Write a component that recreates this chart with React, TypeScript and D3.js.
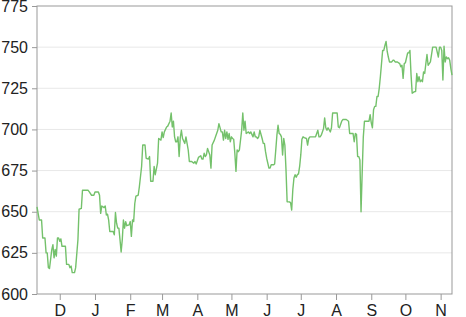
import React, { useEffect, useRef } from "react";
import * as d3 from "d3";

const startDate = new Date(2013, 10, 11);

const dayOffsets = [
  0, 2, 4, 5, 7, 8, 9, 10, 11, 13,
  14, 15, 16, 17, 18, 19, 20, 21, 22, 25,
  26, 28, 29, 30, 31, 33, 34, 36, 37, 39,
  40, 45, 46, 48, 50, 51, 54, 55, 56, 57,
  59, 60, 61, 62, 63, 64, 67, 68, 69, 70,
  71, 72, 73, 74, 75, 76, 77, 78, 79, 81,
  82, 83, 84, 85, 86, 87, 89, 90, 92, 93,
  95, 96, 98, 99, 100, 102, 103, 104, 106, 107,
  109, 110, 111, 112, 114, 115, 117, 118, 119, 120,
  121, 122, 123, 124, 125, 126, 127, 128, 130, 131,
  133, 134, 136, 137, 138, 139, 140, 142, 144, 145,
  146, 147, 148, 149, 150, 152, 153, 154, 156, 157,
  159, 160, 162, 163, 164, 165, 166, 167, 168, 169,
  170, 171, 172, 173, 174, 175, 176, 177, 178, 180,
  181, 182, 183, 184, 186, 187, 188, 190, 191, 192,
  193, 194, 195, 196, 198, 199, 200, 201, 202, 204,
  205, 206, 208, 209, 210, 211, 212, 213, 214, 215,
  216, 217, 218, 219, 220, 222, 223, 224, 225, 226,
  227, 228, 229, 230, 231, 232, 233, 234, 235, 237,
  238, 239, 240, 243, 245, 246, 247, 248, 249, 250,
  251, 252, 253, 254, 255, 256, 258, 259, 260, 264,
  265, 266, 268, 269, 272, 274, 275, 278, 279, 280,
  281, 282, 283, 284, 285, 286, 287, 288, 292, 293,
  294, 295, 296, 297, 298, 299, 300, 301, 302, 303,
  304, 305, 306, 307, 308, 309, 310, 312, 313, 314,
  315, 317, 319, 320, 321, 322, 323, 324, 326, 327,
  328, 329, 330, 332, 333, 334, 335, 336, 337, 338,
  339, 340, 341, 342, 343, 344, 345, 346, 347, 348,
  350, 351, 353, 354, 355, 356, 357, 358, 359, 360,
  361, 362, 363, 364, 365,
];

const values = [
  653, 645, 645, 634, 634, 625, 625, 616, 615.5, 627,
  630, 622, 627, 623, 634, 634, 632, 633.5, 629, 629,
  618, 618, 616, 617, 613, 613, 616, 633, 651.5, 652,
  663, 663, 662, 660, 660, 662, 662, 660, 649, 653.5,
  652.5, 653.5, 648, 648.5, 645, 638, 638, 636, 649.5, 643,
  640, 640, 633, 625.5, 633, 645, 640, 644, 641.5, 642,
  644, 635, 645, 644, 655, 659.5, 660, 665, 677.5, 690.5,
  690.5, 682.5, 682, 683.5, 668.5, 668.5, 677.5, 672.5, 679.5, 694.5,
  693.5, 698.5, 695, 698.5, 701.5, 702, 705, 710, 701.5, 705,
  695.5, 692.5, 692.5, 695.5, 683.5, 695, 699.5, 694.5, 691.5, 695.5,
  687.5, 680.5, 680.5, 680, 679.5, 680.5, 679, 683, 684, 682,
  682, 685.5, 683.5, 684.5, 688.5, 684.5, 676.5, 690.5, 693.5, 695.5,
  699.5, 703.5, 698.5, 698.5, 693.5, 699.5, 694.5, 698.5, 694, 697.5,
  692.5, 695.5, 694.5, 694, 685.5, 674.5, 687.5, 686.5, 687.5, 699.5,
  710, 699.5, 705, 697.5, 698.5, 697.5, 698.5, 695.5, 698.5, 695.5,
  695.5, 694.5, 695.5, 699.5, 694.5, 691.5, 691.5, 686.5, 682.5, 676.5,
  676.5, 678.5, 678.5, 679, 687.5, 696.5, 702.5, 697.5, 697, 695.5,
  684.5, 694.5, 690.5, 675.5, 656, 656, 655.5, 651, 663.5, 670.5,
  672.5, 671, 672.5, 673, 677.5, 684.5, 694, 695.5, 695, 694.5,
  690.5, 694.5, 695.5, 695.5, 695.5, 697.5, 699.5, 695.5, 695.5, 696.5,
  698.5, 700.5, 707, 701, 699.5, 701, 698.5, 701, 710, 710,
  701.5, 701, 705, 706, 706, 705, 697.5, 697.5, 692.5, 697.5,
  697, 683.5, 683.5, 681.5, 650, 673.5, 695.5, 705, 705, 709,
  704, 701, 712, 714, 714, 720, 720, 725, 732, 740,
  748, 748, 751, 753.5, 747.5, 744, 741, 741, 742, 742,
  741, 741, 740, 738, 739, 731, 740, 740.5, 746.5, 746.5,
  748, 733, 722, 723, 723, 734, 729, 732, 729, 730,
  729, 735, 734, 740, 745.5, 739, 740, 741, 745.5, 750,
  750, 750, 744, 750, 750, 748, 730, 750.5, 741, 744,
  743, 743.5, 742, 737, 733,
];

const yDomain = [600, 775];
const yTicks = [600, 625, 650, 675, 700, 725, 750, 775];

const W = 466;
const H = 317;
const margin = { top: 6, right: 14, bottom: 23, left: 37 };

export default function App() {
  const ref = useRef<SVGSVGElement>(null);

  useEffect(() => {
    const svg = d3.select(ref.current);
    svg.selectAll("*").remove();
    const iw = W - margin.left - margin.right;
    const ih = H - margin.top - margin.bottom;

    const data = dayOffsets
      .map((d, i) => ({ date: d3.timeDay.offset(startDate, d), value: values[i] }))
      .filter((p) => p.value !== undefined);

    const x = d3
      .scaleTime()
      .domain(d3.extent(data, (d) => d.date) as [Date, Date])
      .range([0, iw]);
    const y = d3.scaleLinear().domain(yDomain).range([ih, 0]);

    const g = svg
      .append("g")
      .attr("transform", `translate(${margin.left},${margin.top})`);

    // grid
    g.append("g")
      .selectAll("line")
      .data(yTicks.filter((t) => t !== yDomain[0] && t !== yDomain[1]))
      .join("line")
      .attr("x1", 0)
      .attr("x2", iw)
      .attr("y1", (d) => y(d))
      .attr("y2", (d) => y(d))
      .attr("stroke", "#e8e8e8")
      .attr("stroke-width", 1);

    const font = "'Liberation Sans', Arial, Helvetica, sans-serif";

    const yAxis = g
      .append("g")
      .call(d3.axisLeft(y).tickValues(yTicks).tickSize(5).tickPadding(4).tickSizeOuter(0));
    const xAxis = g
      .append("g")
      .attr("transform", `translate(0,${ih})`)
      .call(
        d3
          .axisBottom(x)
          .ticks(d3.timeMonth.every(1))
          .tickFormat((d) => d3.timeFormat("%b")(d as Date).charAt(0))
          .tickSize(6)
          .tickPadding(5)
          .tickSizeOuter(0)
      );

    [yAxis, xAxis].forEach((a) => {
      a.select(".domain").remove();
      a.selectAll(".tick line").attr("stroke", "#999");
      a.selectAll(".tick text")
        .attr("fill", "#222")
        .style("font-family", font)
        .style("font-size", "16px");
    });

    // frame
    g.append("rect")
      .attr("x", 0)
      .attr("y", 0)
      .attr("width", iw)
      .attr("height", ih)
      .attr("fill", "none")
      .attr("stroke", "#999")
      .attr("stroke-width", 1);

    const line = d3
      .line<{ date: Date; value: number }>()
      .x((d) => x(d.date))
      .y((d) => y(d.value));

    g.append("path")
      .datum(data)
      .attr("d", line)
      .attr("fill", "none")
      .attr("stroke", "#74c16b")
      .attr("stroke-width", 1.4)
      .attr("stroke-linejoin", "round");
  }, []);

  return (
    <svg
      ref={ref}
      width={W}
      height={H}
      style={{ position: "absolute", left: 0, top: 0, background: "#fff" }}
    />
  );
}
